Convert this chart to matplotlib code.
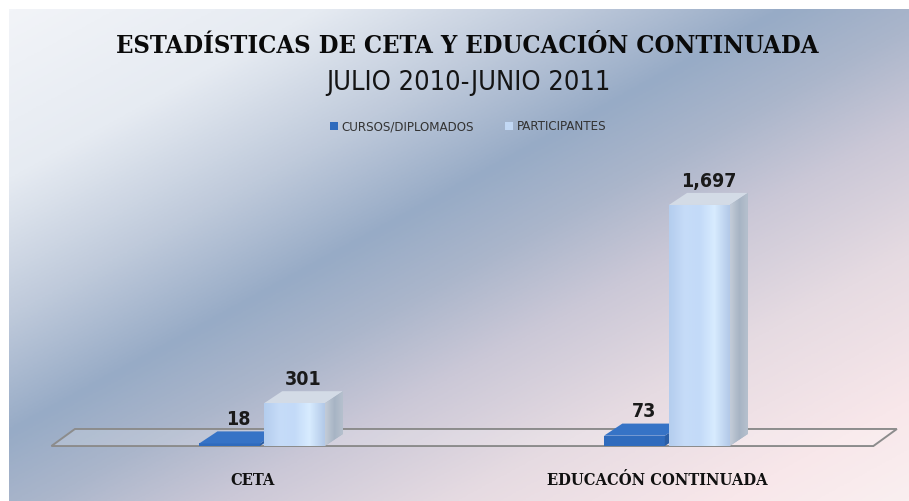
import numpy as np
import matplotlib
matplotlib.use("Agg")
import matplotlib.pyplot as plt
from matplotlib import font_manager as fm
from matplotlib.patches import Polygon
from matplotlib.colors import LinearSegmentedColormap

# ── data ───────────────────────────────────────────────────────
categories    = ["CETA", "EDUCACÓN CONTINUADA"]
series_names  = ["CURSOS/DIPLOMADOS", "PARTICIPANTES"]
cursos        = [18, 73]
participantes = [301, 1697]
labels_cursos = ["18", "73"]
labels_part   = ["301", "1,697"]

TITLE    = "ESTADÍSTICAS DE CETA Y EDUCACIÓN CONTINUADA"
SUBTITLE = "JULIO 2010-JUNIO 2011"

# ── style ──────────────────────────────────────────────────────
W, H = 909, 501
BW   = 0.15            # bar front width (category units)
OFF  = 0.08            # half distance between the two bars of a group
DX, DY   = 0.045, 85   # bar depth
FDX, FDY = 0.058, 120  # floor depth


def narrow_font(serif, bold, fallback):
    # look for a condensed / narrow face, else fall back to a normal family
    for f in fm.fontManager.ttflist:
        fn = f.fname.lower()
        cond = ("condensed" in fn or "narrow" in fn or f.stretch in ("condensed", "semi-condensed"))
        is_serif = "serif" in f.name.lower() and "sans" not in f.name.lower()
        is_bold = f.weight in ("bold", 700) or "bold" in fn
        if cond and is_serif == serif and is_bold == bold and "italic" not in fn and "oblique" not in fn:
            return fm.FontProperties(fname=f.fname)
    return fm.FontProperties(family=fallback, weight="bold" if bold else "normal")


F_SERIF_B = narrow_font(True, True, "Liberation Serif")
F_SANS_B  = narrow_font(False, True, "Roboto")
F_SANS    = narrow_font(False, False, "Roboto")

fig = plt.figure(figsize=(W / 100, H / 100), dpi=100)
fig.patch.set_facecolor("white")

# background gradient
bg = fig.add_axes([9 / W, 0, 1 - 9 / W, 1 - 9 / H])
bg.axis("off")
yy, xx = np.mgrid[0:1:300j, 0:1:540j]
d = 0.5 * xx + 0.5 * yy
cmap = LinearSegmentedColormap.from_list("bg", [
    (0.00, "#f2f4f8"), (0.17, "#e6ebf2"), (0.31, "#bfcadb"), (0.43, "#97abc6"),
    (0.52, "#abb6cb"), (0.62, "#cbc8d7"), (0.75, "#e6dbe2"), (0.90, "#f8e7ea"),
    (1.00, "#faeff0")])
bg.imshow(d, cmap=cmap, aspect="auto", extent=[0, 1, 1, 0], interpolation="bilinear")
bg.set_xlim(0, 1); bg.set_ylim(1, 0)

ax = fig.add_axes([0, 0, 1, 1])
ax.patch.set_alpha(0)
ax.axis("off")
XL, YL = (-0.647, 1.598), (-387, 3140)

x = np.arange(len(categories))

# floor
fl, fr = -0.52, 1.51
ax.add_patch(Polygon([(fl, 0), (fr, 0), (fr + FDX, FDY), (fl + FDX, FDY)],
                     closed=True, facecolor=(1, 1, 1, 0.18), edgecolor="#8c8c8c",
                     lw=1.4, zorder=1))

front_cm = LinearSegmentedColormap.from_list(
    "front", ["#b4cdee", "#c6dcf8", "#c3daf8", "#d8ecff", "#b3c9e8"])
side_cm = LinearSegmentedColormap.from_list("side", ["#c3ccd8", "#a7b4c4", "#b8c2cf"])
grad = np.linspace(0, 1, 64).reshape(1, -1)


def draw_bars(xs, vals, front, side, top, shade, z):
    bars = ax.bar(xs, vals, BW, color=front, edgecolor="none", zorder=z)
    for b, v in zip(bars, vals):
        x0, w = b.get_x(), b.get_width()
        sp = Polygon([(x0 + w, 0), (x0 + w + DX, DY), (x0 + w + DX, v + DY), (x0 + w, v)],
                     closed=True, facecolor=side, edgecolor="none", zorder=z)
        ax.add_patch(sp)
        ax.add_patch(Polygon([(x0, v), (x0 + DX, v + DY), (x0 + w + DX, v + DY), (x0 + w, v)],
                             closed=True, facecolor=top, edgecolor="none", zorder=z))
        if shade:
            im = ax.imshow(grad, cmap=front_cm, aspect="auto", extent=[x0, x0 + w, 0, v],
                           zorder=z + 0.1, interpolation="bilinear")
            im.set_clip_path(b)
            im2 = ax.imshow(grad, cmap=side_cm, aspect="auto",
                            extent=[x0 + w, x0 + w + DX, 0, v + DY],
                            zorder=z + 0.05, interpolation="bilinear")
            im2.set_clip_path(sp)
    return bars


b1 = draw_bars(x - OFF, cursos, "#2f6bbd", "#2a5ea6", "#3673c6", False, 3)
b2 = draw_bars(x + OFF, participantes, "#c2d8f4", "#a9b6c6", "#d3dbe6", True, 4)

for xi, v, s in zip(x - OFF, cursos, labels_cursos):
    ax.text(xi + DX / 2, v + DY + 15, s, ha="center", va="bottom", fontproperties=F_SANS_B,
            fontsize=14, color="#1a1a1a", zorder=6)
for xi, v, s in zip(x + OFF, participantes, labels_part):
    ax.text(xi + DX / 2, v + DY + 15, s, ha="center", va="bottom", fontproperties=F_SANS_B,
            fontsize=14, color="#1a1a1a", zorder=6)

cat_txt = []
for xi, c in zip(x, categories):
    cat_txt.append(ax.text(xi - 0.024, -240, c, ha="center", va="center",
                           fontproperties=F_SERIF_B, fontsize=14, color="#111111"))

ax.set_xlim(*XL)
ax.set_ylim(*YL)

# legend
lp = F_SANS.copy(); lp.set_size(9.5)
leg = ax.legend([b1, b2], series_names, loc="center", bbox_to_anchor=(468 / W, 1 - 127 / H),
                bbox_transform=fig.transFigure, ncol=2, frameon=False, prop=lp,
                handlelength=0.6, handleheight=0.6, columnspacing=2.4, handletextpad=0.25)
for t in leg.get_texts():
    t.set_color("#333333")

# titles
t1 = fig.text(467 / W, 1 - 46 / H, TITLE, ha="center", va="center",
              fontproperties=F_SERIF_B, fontsize=26, color="#0a0a0a")
t2 = fig.text(468 / W, 1 - 83 / H, SUBTITLE, ha="center", va="center",
              fontproperties=F_SANS, fontsize=20, color="#141414")

fig.canvas.draw()
r = fig.canvas.get_renderer()
for t, target in ((t1, 700), (t2, 285), (cat_txt[1], 222)):
    wpx = t.get_window_extent(renderer=r).width
    t.set_fontsize(t.get_fontsize() * target / wpx)
cat_txt[0].set_fontsize(cat_txt[1].get_fontsize())

fig.savefig("out.png", dpi=100, facecolor="white")
